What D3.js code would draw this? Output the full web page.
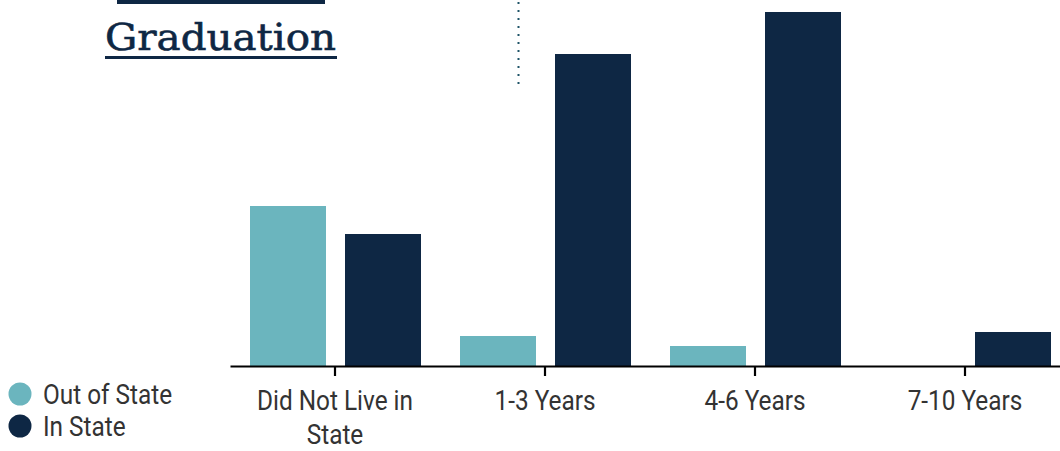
<!DOCTYPE html>
<html><head><meta charset="utf-8">
<script src="https://cdn.jsdelivr.net/npm/d3@7"></script>
<style>
html,body{margin:0;padding:0;background:#fff;}
svg{display:block;}
</style></head>
<body>
<svg id="chart" width="1060" height="451"></svg>
<script>
const categories = ["Did Not Live in State", "1-3 Years", "4-6 Years", "7-10 Years"];
const tickLabels = [["Did Not Live in", "State"], ["1-3 Years"], ["4-6 Years"], ["7-10 Years"]];
const seriesNames = ["Out of State", "In State"];
const outOfState = [16.0, 3.0, 2.0, 0];
const inState = [13.2, 31.2, 35.4, 3.4];
const colors = ["#6bb5be", "#0e2744"];

const svg = d3.select("#chart");
const baseY = 366;

const x0 = d3.scaleBand().domain(categories).range([230, 1070]).paddingInner(0).paddingOuter(0);
const x1 = d3.scaleBand().domain(seriesNames).range([20, x0.bandwidth() - 19]).paddingInner(0.2).paddingOuter(0);
const y = d3.scaleLinear().domain([0, 36]).range([baseY, 6]);

const rows = categories.map((c, i) => ({cat: c, vals: [outOfState[i], inState[i]]}));

const groups = svg.append("g").selectAll("g").data(rows).join("g")
  .attr("transform", d => `translate(${x0(d.cat)},0)`);
groups.selectAll("rect").data(d => d.vals.map((v, j) => ({name: seriesNames[j], v, j}))).join("rect")
  .attr("x", d => x1(d.name))
  .attr("width", x1.bandwidth())
  .attr("y", d => y(d.v))
  .attr("height", d => baseY - y(d.v))
  .attr("fill", d => colors[d.j]);

// axis
const axis = d3.axisBottom(x0).tickSize(10).tickSizeOuter(0);
const ag = svg.append("g").attr("transform", `translate(0,${baseY})`).call(axis);
ag.select(".domain").attr("stroke", "#000").attr("stroke-width", 2.2);
ag.selectAll(".tick line").attr("stroke", "#000").attr("stroke-width", 2.2);
ag.selectAll(".tick text").each(function(d, i) {
  const t = d3.select(this);
  t.text(null).attr("dy", null).attr("y", null)
    .attr("fill", "#333")
    .attr("font-family", "Roboto, sans-serif")
    .attr("font-size", 28)
    .attr("text-anchor", "middle")
    .attr("transform", "scale(0.87,1)");
  tickLabels[i].forEach((line, k) => {
    t.append("tspan").attr("x", 0).attr("y", 44 + k * 34).text(line);
  });
});

// legend
const leg = svg.append("g");
seriesNames.forEach((n, i) => {
  const cy = 394 + i * 32;
  leg.append("circle").attr("cx", 20).attr("cy", cy).attr("r", 11.5).attr("fill", colors[i]);
  leg.append("text").attr("transform", `translate(43,${cy + 10}) scale(0.87,1)`)
    .attr("font-family", "Roboto, sans-serif").attr("font-size", 28).attr("fill", "#333")
    .text(n);
});

// title fragment
svg.append("rect").attr("x", 117).attr("y", 0).attr("width", 208).attr("height", 4).attr("fill", "#0e2744");
svg.append("text").attr("x", 105).attr("y", 50)
  .attr("font-family", "'DejaVu Serif', serif").attr("font-size", 38)
  .attr("fill", "#0e2744").attr("stroke", "#0e2744").attr("stroke-width", 0.6)
  .attr("textLength", 231).attr("lengthAdjust", "spacingAndGlyphs")
  .text("Graduation");
svg.append("rect").attr("x", 105).attr("y", 56).attr("width", 232).attr("height", 3).attr("fill", "#0e2744");

// dotted line
svg.append("line").attr("x1", 518.5).attr("x2", 518.5).attr("y1", 2).attr("y2", 84)
  .attr("stroke", "#1f5468").attr("stroke-width", 2).attr("stroke-dasharray", "2,6");
</script>
</body></html>
